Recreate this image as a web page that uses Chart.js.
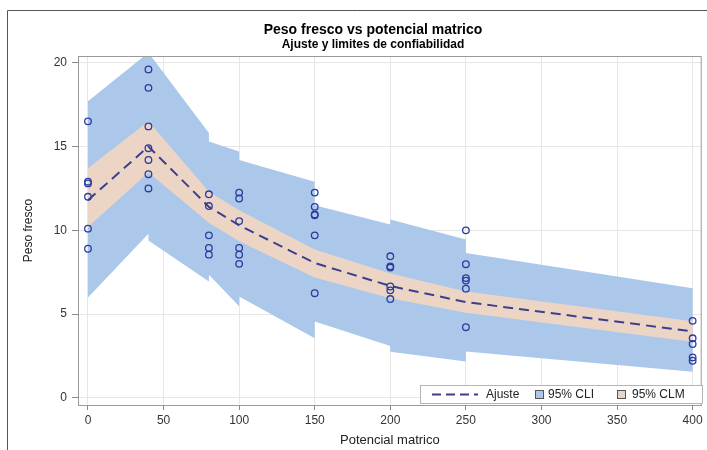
<!DOCTYPE html>
<html>
<head>
<meta charset="utf-8">
<title>Peso fresco vs potencial matrico</title>
<script src="https://cdn.jsdelivr.net/npm/chart.js@4.4.1/dist/chart.umd.min.js"></script>
<style>
	body { margin: 0; background: #fff; }
	canvas { display: block; }
</style>
</head>
<body>
<canvas id="fitChart" width="707" height="450"></canvas>
<script>
// observaciones (potencial matrico, peso fresco)
var obsX = [0, 0, 0, 0, 0, 0,
	40, 40, 40, 40, 40, 40, 40,
	80, 80, 80, 80, 80,
	100, 100, 100, 100, 100, 100,
	150, 150, 150, 150, 150, 150,
	200, 200, 200, 200, 200, 200,
	250, 250, 250, 250, 250, 250,
	400, 400, 400, 400, 400];
var obsY = [16.5, 12.9, 12.8, 12.0, 10.1, 8.9,
	19.6, 18.5, 16.2, 14.9, 14.2, 13.35, 12.5,
	12.15, 11.45, 9.7, 8.95, 8.55,
	12.25, 11.9, 10.55, 8.95, 8.55, 8.0,
	12.25, 11.4, 10.95, 10.9, 9.7, 6.25,
	8.45, 7.85, 7.78, 6.65, 6.42, 5.9,
	10.0, 7.98, 7.15, 7.0, 6.52, 4.22,
	4.6, 3.56, 3.22, 2.42, 2.22];

// ajuste y 95% CLM
var fitX = [0, 40, 80, 100, 150, 200, 250, 400];
var fitY = [11.8, 15.0, 11.4, 10.3, 8.05, 6.68, 5.72, 3.97];
var clmUpper = [13.7, 16.5, 12.3, 11.2, 8.85, 7.42, 6.35, 4.58];
var clmLower = [10.2, 13.45, 10.45, 9.35, 7.18, 5.95, 5.08, 3.35];

// 95% CLI (con saltos en cada nivel)
var cliX = [0, 40, 40, 80, 80, 100, 100, 150, 150, 200, 200, 250, 250, 400];
var cliUpper = [17.7, 20.6, 20.6, 15.8, 15.3, 14.7, 14.2, 12.9, 11.5, 10.35, 10.65, 9.45, 8.65, 6.55];
var cliLower = [6.0, 9.8, 9.4, 6.95, 7.35, 5.47, 6.05, 3.56, 4.56, 3.1, 2.75, 2.17, 2.77, 1.57];

var xTicks = [0, 50, 100, 150, 200, 250, 300, 350, 400];
var yTicks = [0, 5, 10, 15, 20];

var FONT = "'Liberation Sans', Arial, sans-serif";
var cliColor = "#abc8ea";
var clmColor = "#edd5c6";
var fitColor = "#3d3f8e";
var markColor = "#2b3c9e";

function toPoints(xs, ys) {
	return xs.map(function (x, i) {
		return { x: x, y: ys[i] };
	});
}

// upper edge left->right, then lower edge back
function bandShape(xs, upper, lower) {
	var pts = toPoints(xs, upper);
	for (var i = xs.length - 1; i >= 0; i--) {
		pts.push({ x: xs[i], y: lower[i] });
	}
	return pts;
}

var decorations = {
	id: "decorations",
	beforeDraw: function (chart) {
		var ctx = chart.ctx;
		ctx.save();
		ctx.fillStyle = "#fff";
		ctx.fillRect(0, 0, chart.width, chart.height);
		ctx.strokeStyle = "#555";
		ctx.lineWidth = 1;
		ctx.beginPath();
		ctx.moveTo(7.5, chart.height);
		ctx.lineTo(7.5, 10.5);
		ctx.lineTo(chart.width, 10.5);
		ctx.stroke();
		ctx.restore();
	},
	afterDraw: function (chart) {
		var ctx = chart.ctx;
		var a = chart.chartArea;
		ctx.save();
		// plot frame
		ctx.strokeStyle = "#9a9a9a";
		ctx.lineWidth = 1;
		ctx.strokeRect(a.left + 0.5, a.top + 0.5, a.right - a.left - 1, a.bottom - a.top);

		// titles
		ctx.fillStyle = "#000";
		ctx.textAlign = "center";
		ctx.textBaseline = "middle";
		ctx.font = "bold 14px " + FONT;
		ctx.fillText("Peso fresco vs potencial matrico", 373, 30);
		ctx.font = "bold 12px " + FONT;
		ctx.fillText("Ajuste y limites de confiabilidad", 373, 45);

		// legend
		var lx = 420, ly = 385, lw = 282, lh = 18;
		ctx.fillStyle = "#fff";
		ctx.fillRect(lx, ly, lw, lh);
		ctx.strokeStyle = "#b5b5b5";
		ctx.strokeRect(lx + 0.5, ly + 0.5, lw, lh);
		var cy = ly + lh / 2 + 0.5;
		ctx.strokeStyle = fitColor;
		ctx.lineWidth = 2;
		ctx.setLineDash([9, 5]);
		ctx.beginPath();
		ctx.moveTo(432, cy);
		ctx.lineTo(478, cy);
		ctx.stroke();
		ctx.setLineDash([]);
		ctx.font = "12px " + FONT;
		ctx.textAlign = "left";
		ctx.fillStyle = "#222";
		ctx.fillText("Ajuste", 486, cy);
		ctx.lineWidth = 1;
		ctx.strokeStyle = "#555";
		ctx.fillStyle = cliColor;
		ctx.fillRect(535.5, cy - 4, 8, 8);
		ctx.strokeRect(535.5, cy - 4, 8, 8);
		ctx.fillStyle = clmColor;
		ctx.fillRect(617.5, cy - 4, 8, 8);
		ctx.strokeRect(617.5, cy - 4, 8, 8);
		ctx.fillStyle = "#222";
		ctx.fillText("95% CLI", 548, cy);
		ctx.fillText("95% CLM", 632, cy);
		ctx.restore();
	}
};

var ctx = document.querySelector("#fitChart").getContext("2d");
var fitChart = new Chart(ctx, {
	type: "scatter",
	data: {
		datasets: [
			{
				label: "Observado",
				data: toPoints(obsX, obsY),
				pointStyle: "circle",
				pointRadius: 3.3,
				pointBorderWidth: 1.3,
				borderColor: markColor,
				backgroundColor: "rgba(0,0,0,0)",
				showLine: false,
				order: 0
			},
			{
				label: "Ajuste",
				data: toPoints(fitX, fitY),
				showLine: true,
				borderColor: fitColor,
				borderWidth: 2,
				borderDash: [10, 6],
				pointRadius: 0,
				fill: false,
				order: 1
			},
			{
				label: "95% CLM",
				data: bandShape(fitX, clmUpper, clmLower),
				showLine: true,
				borderWidth: 0,
				borderColor: "rgba(0,0,0,0)",
				backgroundColor: clmColor,
				pointRadius: 0,
				fill: "shape",
				order: 2
			},
			{
				label: "95% CLI",
				data: bandShape(cliX, cliUpper, cliLower),
				showLine: true,
				borderWidth: 0,
				borderColor: "rgba(0,0,0,0)",
				backgroundColor: cliColor,
				pointRadius: 0,
				fill: "shape",
				order: 3
			}
		]
	},
	options: {
		responsive: false,
		animation: false,
		layout: { padding: { left: 8, top: 56, right: 3, bottom: 0 } },
		plugins: {
			legend: { display: false },
			title: { display: false },
			tooltip: { enabled: false }
		},
		scales: {
			x: {
				type: "linear",
				min: -6.6,
				max: 406,
				afterBuildTicks: function (scale) {
					scale.ticks = xTicks.map(function (v) { return { value: v }; });
				},
				afterFit: function (scale) {
					scale.height = 45;
					scale.paddingLeft = 0;
					scale.paddingRight = 0;
				},
				ticks: {
					font: { family: FONT, size: 12 },
					color: "#333",
					padding: 3,
					maxRotation: 0
				},
				grid: { color: "#e6e6e6", tickColor: "#888", tickLength: 5 },
				border: { display: true, color: "#9a9a9a" },
				title: {
					display: true,
					text: "Potencial matrico",
					font: { family: FONT, size: 13 },
					color: "#222",
					padding: { top: 0, bottom: 2 }
				}
			},
			y: {
				type: "linear",
				min: -0.42,
				max: 20.4,
				afterBuildTicks: function (scale) {
					scale.ticks = yTicks.map(function (v) { return { value: v }; });
				},
				afterFit: function (scale) {
					scale.width = 70;
					scale.paddingTop = 0;
					scale.paddingBottom = 0;
				},
				ticks: {
					font: { family: FONT, size: 12 },
					color: "#333",
					padding: 5
				},
				grid: { color: "#e6e6e6", tickColor: "#888", tickLength: 6 },
				border: { display: true, color: "#9a9a9a" },
				title: {
					display: true,
					text: "Peso fresco",
					font: { family: FONT, size: 12 },
					color: "#222",
					padding: { top: 13, bottom: 0 }
				}
			}
		}
	},
	plugins: [decorations]
});
</script>
</body>
</html>
